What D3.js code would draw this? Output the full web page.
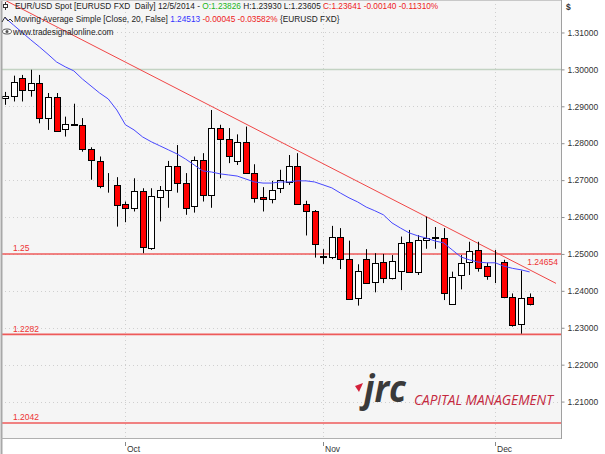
<!DOCTYPE html>
<html>
<head>
<meta charset="utf-8">
<script src="https://cdn.jsdelivr.net/npm/d3@7"></script>
<style>
	body { margin: 0; background: #fff; }
	svg { display: block; font-family: "Liberation Sans", Arial, sans-serif; }
	text { white-space: pre; }
</style>
</head>
<body>
<div id="chart"></div>
<script>
// trading days, 11 Sep 2014 - 5 Dec 2014
var dates = [
	'2014-09-11','2014-09-12','2014-09-15','2014-09-16','2014-09-17','2014-09-18','2014-09-19',
	'2014-09-22','2014-09-23','2014-09-24','2014-09-25','2014-09-26','2014-09-29','2014-09-30',
	'2014-10-01','2014-10-02','2014-10-03','2014-10-06','2014-10-07','2014-10-08','2014-10-09',
	'2014-10-10','2014-10-13','2014-10-14','2014-10-15','2014-10-16','2014-10-17','2014-10-20',
	'2014-10-21','2014-10-22','2014-10-23','2014-10-24','2014-10-27','2014-10-28','2014-10-29',
	'2014-10-30','2014-10-31','2014-11-03','2014-11-04','2014-11-05','2014-11-06','2014-11-07',
	'2014-11-10','2014-11-11','2014-11-12','2014-11-13','2014-11-14','2014-11-17','2014-11-18',
	'2014-11-19','2014-11-20','2014-11-21','2014-11-24','2014-11-25','2014-11-26','2014-11-27',
	'2014-11-28','2014-12-01','2014-12-02','2014-12-03','2014-12-04','2014-12-05'
];

var opens = [
	1.2923, 1.2928, 1.2976, 1.2944, 1.2964, 1.2868, 1.2925, 1.2838, 1.2852, 1.2850,
	1.2784, 1.2753, 1.2688, 1.2687, 1.2635, 1.2624, 1.2671, 1.2515, 1.2655, 1.2672,
	1.2737, 1.2693, 1.2630, 1.2755, 1.2660, 1.2841, 1.2812, 1.2752, 1.2803, 1.2719,
	1.2653, 1.2648, 1.2678, 1.2696, 1.2737, 1.2635, 1.2617, 1.2494, 1.2493, 1.2545,
	1.2486, 1.2380, 1.2486, 1.2423, 1.2478, 1.2436, 1.2454, 1.2533, 1.2450, 1.2538,
	1.2545, 1.2544, 1.2364, 1.2443, 1.2479, 1.2511, 1.2467, 1.2466, 1.2477, 1.2383,
	1.2310, 1.23826
];
var highs = [
	1.2939, 1.2983, 1.2985, 1.2999, 1.2985, 1.2936, 1.2936, 1.2872, 1.2907, 1.2868,
	1.2789, 1.2764, 1.2719, 1.2708, 1.2642, 1.2705, 1.2678, 1.2678, 1.2684, 1.2752,
	1.2795, 1.2719, 1.2764, 1.2773, 1.2890, 1.2850, 1.2841, 1.2824, 1.2845, 1.2743,
	1.2681, 1.2698, 1.2728, 1.2768, 1.2773, 1.2644, 1.2619, 1.2513, 1.2576, 1.2570,
	1.2536, 1.2472, 1.2513, 1.2502, 1.2500, 1.2497, 1.2547, 1.2565, 1.2551, 1.2601,
	1.2573, 1.2570, 1.2452, 1.2497, 1.2533, 1.2533, 1.2476, 1.2511, 1.2484, 1.2393,
	1.2455, 1.23930
];
var lows = [
	1.2904, 1.2913, 1.2913, 1.2926, 1.2854, 1.2836, 1.2831, 1.2818, 1.2847, 1.2777,
	1.2701, 1.2678, 1.2666, 1.2574, 1.2586, 1.2615, 1.2502, 1.2511, 1.2588, 1.2625,
	1.2666, 1.2606, 1.2612, 1.2642, 1.2625, 1.2705, 1.2746, 1.2741, 1.2717, 1.2639,
	1.2615, 1.2637, 1.2665, 1.2687, 1.2633, 1.2550, 1.2490, 1.2473, 1.2486, 1.2459,
	1.2377, 1.2360, 1.2421, 1.2396, 1.2421, 1.2431, 1.2402, 1.2449, 1.2443, 1.2514,
	1.2514, 1.2375, 1.2362, 1.2404, 1.2443, 1.2452, 1.2430, 1.2421, 1.2380, 1.2303,
	1.2284, 1.23605
];
var closes = [
	1.2928, 1.2966, 1.2944, 1.2964, 1.2868, 1.2925, 1.2833, 1.2851, 1.2850, 1.2784,
	1.2755, 1.2684, 1.2686, 1.2633, 1.2624, 1.2671, 1.2520, 1.2657, 1.2672, 1.2737,
	1.2693, 1.2624, 1.2755, 1.2660, 1.2841, 1.2812, 1.2764, 1.2803, 1.2719, 1.2651,
	1.2648, 1.2673, 1.2701, 1.2737, 1.2635, 1.2617, 1.2526, 1.2492, 1.2545, 1.2486,
	1.2378, 1.2455, 1.2422, 1.2476, 1.2436, 1.2481, 1.2529, 1.2450, 1.2538, 1.2544,
	1.2543, 1.2395, 1.2438, 1.2476, 1.2508, 1.2461, 1.2441, 1.2468, 1.2383, 1.2308,
	1.2380, 1.23641
];
// simple moving average (close, 20)
var ma20 = [
	1.3140, 1.3120, 1.3100, 1.3080, 1.3061, 1.3041, 1.3020, 1.3007, 1.2996, 1.2974,
	1.2955, 1.2936, 1.2920, 1.2890, 1.2850, 1.2836, 1.2817, 1.2804, 1.2793, 1.2782,
	1.2771, 1.2757, 1.2741, 1.2725, 1.2722, 1.2717, 1.2714, 1.2711, 1.2703, 1.2695,
	1.2692, 1.2692, 1.2695, 1.2695, 1.2698, 1.2698, 1.2695, 1.2687, 1.2679, 1.2665,
	1.2652, 1.2641, 1.2627, 1.2617, 1.2606, 1.2584, 1.2570, 1.2557, 1.2549, 1.2543,
	1.2535, 1.2530, 1.2511, 1.2492, 1.2484, 1.2478, 1.2476, 1.2476, 1.2467, 1.2461,
	1.2457, 1.24513
];

var levels = [1.25, 1.2282, 1.2042];
var levelLabels = ['1.25', '1.2282', '1.2042'];
var yTicks = [1.21, 1.22, 1.23, 1.24, 1.25, 1.26, 1.27, 1.28, 1.29, 1.30, 1.31];
var monthTicks = ['2014-10-01', '2014-11-03', '2014-12-01'];
var monthLabels = ['Oct', 'Nov', 'Dec'];
// trend line anchors (date, value), extended across the chart
var trendDates = ['2014-10-15', '2014-12-05'];
var trendValues = [1.2900, 1.2457];
var trendLabel = '1.24654';
var changeText = ['-0.00140', '-0.11310%'];
var maChange = ['-0.00045', '-0.03582%'];

var width = 605,
	height = 454,
	plot = {left: 1, right: 561, top: 0, bottom: 438};

var svg = d3.select('#chart').append('svg')
	.attr('width', width)
	.attr('height', height);

var n = dates.length;
var x = d3.scaleLinear().domain([0, n - 1]).range([5, 5 + (n - 1) * 8.6]);
var y = d3.scaleLinear().domain([1.2004, 1.3188]).range([plot.bottom - 1, plot.top]);
var fmt5 = d3.format('.5f');

svg.append('rect')
	.attr('x', plot.left).attr('y', plot.top)
	.attr('width', plot.right - plot.left).attr('height', plot.bottom - plot.top)
	.style('fill', '#f5f5f5');

// grid
svg.append('g').selectAll('line')
	.data(yTicks)
	.enter().append('line')
	.attr('x1', plot.left).attr('x2', plot.right)
	.attr('y1', function(d) { return Math.round(y(d)) + 0.5; })
	.attr('y2', function(d) { return Math.round(y(d)) + 0.5; })
	.style('stroke', '#cfcfcf')
	.style('stroke-dasharray', '1,3');

svg.append('g').selectAll('line')
	.data(monthTicks)
	.enter().append('line')
	.attr('x1', function(d) { return Math.round(x(dates.indexOf(d))) + 0.5; })
	.attr('x2', function(d) { return Math.round(x(dates.indexOf(d))) + 0.5; })
	.attr('y1', plot.top).attr('y2', plot.bottom)
	.style('stroke', '#cfcfcf')
	.style('stroke-dasharray', '1,3');

// 1.30 marker line
svg.append('line')
	.attr('x1', plot.left).attr('x2', plot.right)
	.attr('y1', y(1.30)).attr('y2', y(1.30))
	.style('stroke', '#c3d3c3')
	.style('stroke-width', 1.5);

// horizontal support levels
var lv = svg.append('g').selectAll('g')
	.data(levels)
	.enter().append('g');

lv.append('line')
	.attr('x1', plot.left).attr('x2', plot.right)
	.attr('y1', function(d) { return y(d); })
	.attr('y2', function(d) { return y(d); })
	.style('stroke', '#ee5a5a')
	.style('stroke-width', 1.6);

lv.append('text')
	.attr('x', 13)
	.attr('y', function(d) { return y(d) - 2.5; })
	.style('font-size', '8.5px')
	.style('fill', '#ee3333')
	.text(function(d, i) { return levelLabels[i]; });

// trend line
var ti0 = dates.indexOf(trendDates[0]),
	ti1 = dates.indexOf(trendDates[1]);
var slope = (trendValues[1] - trendValues[0]) / (ti1 - ti0);
var iStart = x.invert(plot.left),
	iEnd = x.invert(556);
svg.append('line')
	.attr('x1', x(iStart))
	.attr('y1', y(trendValues[0] + slope * (iStart - ti0)))
	.attr('x2', x(iEnd))
	.attr('y2', y(trendValues[0] + slope * (iEnd - ti0)))
	.style('stroke', '#f04646')
	.style('stroke-width', 1);

svg.append('text')
	.attr('x', 558)
	.attr('y', y(+trendLabel) - 2)
	.attr('text-anchor', 'end')
	.style('font-size', '8.5px')
	.style('fill', '#ee3333')
	.text(trendLabel);

// candles
var candles = svg.append('g').selectAll('g')
	.data(dates.map(function(d, i) {
		return {date: d, i: i, o: opens[i], h: highs[i], l: lows[i], c: closes[i]};
	}))
	.enter().append('g');

candles.append('line')
	.attr('x1', function(d) { return Math.round(x(d.i)) + 0.5; })
	.attr('x2', function(d) { return Math.round(x(d.i)) + 0.5; })
	.attr('y1', function(d) { return y(d.h); })
	.attr('y2', function(d) { return y(d.l); })
	.style('stroke', '#000');

candles.append('rect')
	.attr('x', function(d) { return Math.round(x(d.i)) - 2.5; })
	.attr('width', 6)
	.attr('y', function(d) { return Math.round(y(Math.max(d.o, d.c))) + 0.5; })
	.attr('height', function(d) {
		return Math.max(0, Math.round(y(Math.min(d.o, d.c))) - Math.round(y(Math.max(d.o, d.c))));
	})
	.style('fill', function(d) { return d.c < d.o ? '#ff0000' : '#ffffff'; })
	.style('stroke', '#000');

// moving average
var maLine = d3.line()
	.x(function(d, i) { return x(i); })
	.y(function(d) { return y(d); });

svg.append('path')
	.datum(ma20)
	.attr('d', maLine)
	.style('fill', 'none')
	.style('stroke', '#4848ff')
	.style('stroke-width', 1);

// frame
svg.append('line')
	.attr('x1', 1.5).attr('x2', 1.5).attr('y1', 0).attr('y2', height)
	.style('stroke', '#a8a8a8').style('stroke-width', 2);
svg.append('line')
	.attr('x1', plot.left).attr('x2', plot.right)
	.attr('y1', plot.bottom + 0.5).attr('y2', plot.bottom + 0.5)
	.style('stroke', '#b0b0b0');
svg.append('line')
	.attr('x1', plot.left).attr('x2', plot.right)
	.attr('y1', 0.5).attr('y2', 0.5)
	.style('stroke', '#c8c8c8');

// right axis
var yAxis = d3.axisRight(y)
	.tickValues(yTicks)
	.tickSize(3)
	.tickPadding(3)
	.tickFormat(fmt5);

var ya = svg.append('g')
	.attr('transform', 'translate(' + (plot.right + 0.5) + ',0)')
	.call(yAxis);
ya.select('.domain')
	.attr('d', 'M0,0V' + (plot.bottom + 1))
	.style('stroke', '#a0a0a0');
ya.selectAll('.tick line').style('stroke', '#909090');
ya.selectAll('.tick text')
	.style('font-size', '8.5px')
	.style('fill', '#333')
	.style('font-family', '"Liberation Sans", Arial, sans-serif');

svg.append('text')
	.attr('x', 566).attr('y', 10)
	.style('font-size', '8.5px')
	.style('font-weight', 'bold')
	.style('fill', '#333')
	.text('$');

// month axis
var mt = svg.append('g').selectAll('g')
	.data(monthTicks)
	.enter().append('g')
	.attr('transform', function(d) { return 'translate(' + Math.round(x(dates.indexOf(d))) + ',0)'; });

mt.append('line')
	.attr('x1', 0.5).attr('x2', 0.5)
	.attr('y1', 442).attr('y2', 446)
	.style('stroke', '#888');

mt.append('text')
	.attr('x', 2)
	.attr('y', 452)
	.style('font-size', '8.5px')
	.style('fill', '#333')
	.text(function(d, i) { return monthLabels[i]; });

// legend
var last = n - 1;
var legend = svg.append('g').style('font-size', '8.3px');

var l1 = legend.append('text').attr('x', 15).attr('y', 9).style('fill', '#222');
l1.append('tspan').text('EUR/USD Spot [EURUSD FXD  Daily] 12/5/2014 - ');
l1.append('tspan').style('fill', '#22b522').text('O:' + fmt5(opens[last]));
l1.append('tspan').text(' H:' + fmt5(highs[last]) + ' L:' + fmt5(lows[last]) + ' ');
l1.append('tspan').style('fill', '#ee2222')
	.text('C:' + fmt5(closes[last]) + ' ' + changeText[0] + ' ' + changeText[1]);

var l2 = legend.append('text').attr('x', 14).attr('y', 22).style('fill', '#222');
l2.append('tspan').text('Moving Average Simple [Close, 20, False] ');
l2.append('tspan').style('fill', '#3333ff').text(fmt5(ma20[last]));
l2.append('tspan').style('fill', '#ee2222').text(' ' + maChange[0] + ' ' + maChange[1]);
l2.append('tspan').text(' {EURUSD FXD}');

legend.append('text').attr('x', 13).attr('y', 34.5).style('fill', '#222')
	.text('www.tradesignalonline.com');

// legend icons
legend.append('line').attr('x1', 5.5).attr('x2', 5.5).attr('y1', 2).attr('y2', 10)
	.style('stroke', '#333');
legend.append('rect').attr('x', 3.5).attr('y', 4.5).attr('width', 4).attr('height', 3)
	.style('fill', '#fff').style('stroke', '#333');
legend.append('path').attr('d', 'M2,22 L5,17 L8,21 L10,19 L13,22')
	.style('fill', 'none').style('stroke', '#333');
legend.append('ellipse').attr('cx', 7).attr('cy', 31.5).attr('rx', 4.5).attr('ry', 2.5)
	.style('fill', '#fff').style('stroke', '#555');
legend.append('circle').attr('cx', 7).attr('cy', 31.5).attr('r', 1.5)
	.style('fill', '#555');

// logo
var logo = svg.append('g');
logo.append('path')
	.attr('d', 'M355,386 L363,383 L359,392 Z')
	.style('fill', '#d4203a');

function fitText(sel, w) {
	var len = sel.node().getComputedTextLength();
	sel.attr('transform', sel.attr('transform') + ' scale(' + (w / len) + ',1)');
}

var jrc = logo.append('text')
	.attr('transform', 'translate(364,402)')
	.style('font-family', '"Open Sans", sans-serif')
	.style('font-size', '38px')
	.style('font-weight', 'bold')
	.style('font-style', 'italic')
	.style('fill', '#3a3a3a')
	.text('jrc');
fitText(jrc, 42);

var cap = logo.append('text')
	.attr('transform', 'translate(414,405)')
	.style('font-family', '"Open Sans", sans-serif')
	.style('font-size', '15px')
	.style('font-style', 'italic')
	.style('fill', '#c4283e')
	.text('CAPITAL MANAGEMENT');
fitText(cap, 139);
</script>
</body>
</html>
